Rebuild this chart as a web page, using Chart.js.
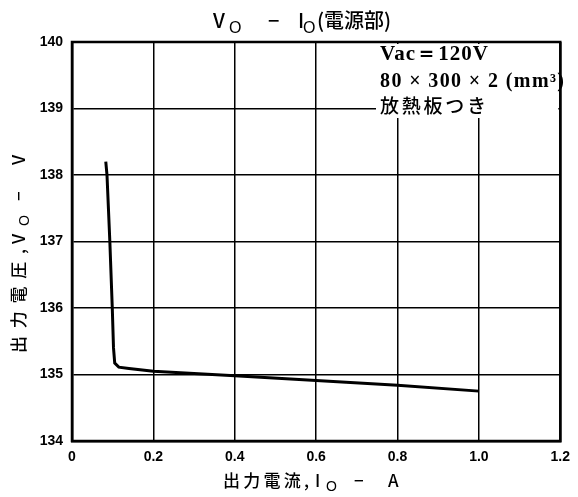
<!DOCTYPE html>
<html>
<head>
<meta charset="utf-8">
<script src="https://cdn.jsdelivr.net/npm/chart.js@4"></script>
<style>
  html, body { margin: 0; padding: 0; background: #fff; }
  #wrap { width: 578px; height: 497px; }
</style>
</head>
<body>
<div id="wrap"><canvas id="chart" width="578" height="497"></canvas></div>
<script>
// output current (A) and output voltage (V)
const currentA = [0.083, 0.086, 0.093, 0.099, 0.102, 0.105, 0.115, 0.14, 0.2, 0.4, 0.6, 0.8, 1.0];
const voltageV = [138.2, 138.0, 137.0, 136.0, 135.4, 135.17, 135.11, 135.09, 135.05, 134.98, 134.91, 134.84, 134.75];
const xTicks = [0, 0.2, 0.4, 0.6, 0.8, 1.0, 1.2];
const yTicks = [134, 135, 136, 137, 138, 139, 140];
const noteLines = ['Vac＝120V', '80 × 300 × 2 (mm³)', '放熱板つき'];

const tickFont = { family: 'Liberation Sans', size: 14, weight: 'bold' };
const cjk = '"Noto Sans CJK JP", "Liberation Sans"';

// draw text stretched (via letter spacing) so it spans about `width` px
function fitText(ctx, text, x, y, width) {
  ctx.letterSpacing = '0px';
  const w = ctx.measureText(text).width;
  const n = [...text].length;
  const sp = n > 1 ? Math.max(0, (width - w) / (n - 1)) : 0;
  ctx.letterSpacing = sp + 'px';
  ctx.fillText(text, x, y);
  ctx.letterSpacing = '0px';
}

// parts: [text, x offset, kind, width]; kind 'sub' = subscript O
function drawParts(ctx, parts, x, y, size) {
  ctx.save();
  ctx.textAlign = 'left';
  ctx.textBaseline = 'alphabetic';
  parts.forEach(p => {
    if (p[2] === 'sub') {
      ctx.font = Math.round(size * 0.8) + 'px "Liberation Sans"';
      ctx.fillText(p[0], x + p[1], y + size * 0.25);
    } else {
      ctx.font = '500 ' + size + 'px ' + cjk;
      if (p[3]) fitText(ctx, p[0], x + p[1], y, p[3]);
      else ctx.fillText(p[0], x + p[1], y);
    }
  });
  ctx.restore();
}

const textPlugin = {
  id: 'texts',
  afterDraw(chart) {
    const ctx = chart.ctx;
    ctx.fillStyle = '#000';
    // title
    drawParts(ctx, [['V', 0], ['O', 16, 'sub'], ['−', 55], ['I', 85], ['O', 90, 'sub'], ['(電源部)', 104, '', 64]], 213, 28, 20);
    // x axis title
    drawParts(ctx, [['出力電流,', 0, '', 86], ['I', 92], ['O', 103, 'sub'], ['−', 131], ['A', 165]], 223, 487, 17);
    // y axis title
    ctx.save();
    ctx.translate(25, 353);
    ctx.rotate(-Math.PI / 2);
    drawParts(ctx, [['出力電圧,', 0, '', 104], ['V', 109], ['O', 127, 'sub'], ['−', 152], ['V', 188]], 0, 0, 17);
    ctx.restore();
    // note block, white behind it like the original
    const a = chart.chartArea;
    ctx.save();
    ctx.fillStyle = '#fff';
    ctx.fillRect(376, a.top + 2, a.right - 378, 74);
    ctx.fillStyle = '#000';
    ctx.font = 'bold 21px "Liberation Serif"';
    fitText(ctx, noteLines[0], 380, 60, 108);
    ctx.font = 'bold 20px "Liberation Serif"';
    fitText(ctx, noteLines[1], 380, 87, 184);
    ctx.font = '500 19px ' + cjk;
    fitText(ctx, noteLines[2], 380, 113, 106);
    ctx.restore();
  }
};

new Chart(document.getElementById('chart'), {
  type: 'scatter',
  data: {
    datasets: [{
      data: currentA.map((x, i) => ({ x: x, y: voltageV[i] })),
      showLine: true,
      borderColor: '#000',
      borderWidth: 3,
      pointRadius: 0,
      tension: 0
    }]
  },
  options: {
    responsive: false,
    animation: false,
    layout: { padding: { left: 0, top: 42, right: 15, bottom: 0 } },
    plugins: { legend: { display: false }, tooltip: { enabled: false } },
    scales: {
      x: {
        type: 'linear',
        min: 0,
        max: 1.2,
        afterBuildTicks: s => { s.ticks = xTicks.map(v => ({ value: v })); },
        afterFit: s => { s.height = 56; },
        grid: { color: '#000', lineWidth: 1.5, drawTicks: false },
        border: { color: '#000', width: 2.5 },
        ticks: {
          color: '#000',
          font: tickFont,
          padding: 8,
          callback: v => (v === 0 ? '0' : v.toFixed(1))
        }
      },
      y: {
        min: 134,
        max: 140,
        afterBuildTicks: s => { s.ticks = yTicks.map(v => ({ value: v })); },
        afterFit: s => { s.width = 72; },
        grid: { color: '#000', lineWidth: 1.5, drawTicks: false },
        border: { color: '#000', width: 2.5 },
        ticks: { color: '#000', font: tickFont, padding: 9 }
      }
    }
  },
  plugins: [textPlugin, {
    id: 'frame',
    afterDatasetsDraw(chart) {
      const a = chart.chartArea, ctx = chart.ctx;
      ctx.save();
      ctx.strokeStyle = '#000';
      ctx.lineWidth = 2.5;
      ctx.strokeRect(a.left, a.top, a.right - a.left, a.bottom - a.top);
      ctx.restore();
    }
  }]
});
</script>
</body>
</html>
